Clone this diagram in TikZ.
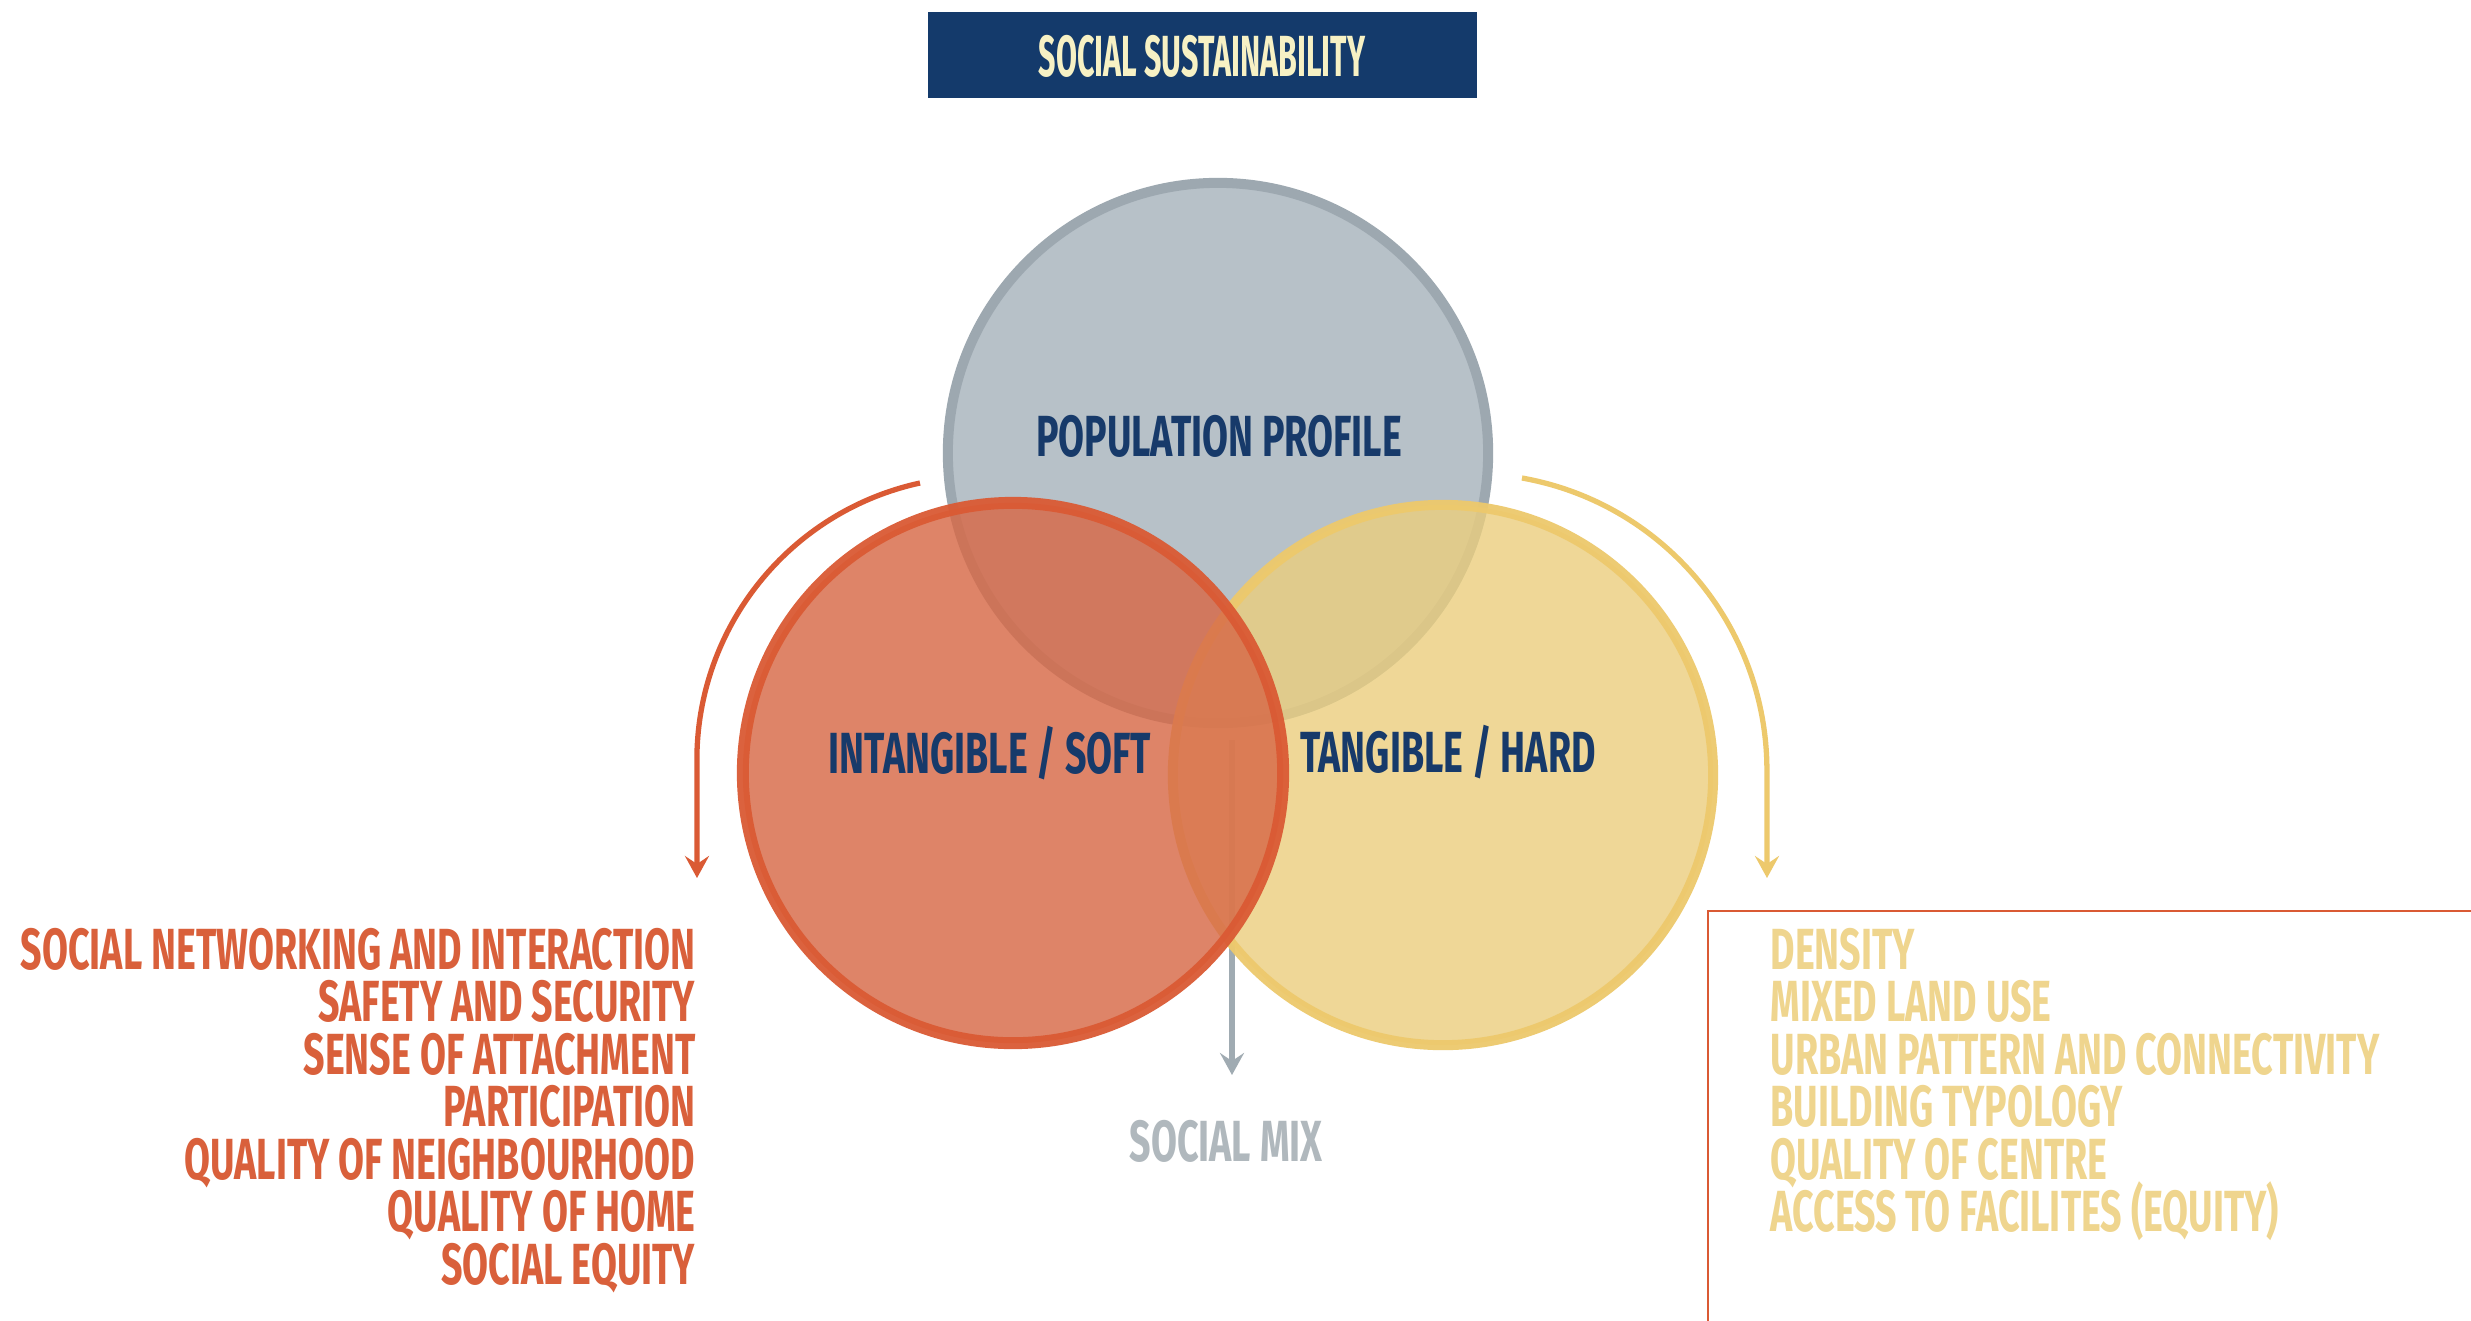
\documentclass[tikz,border=0pt]{standalone}
\usepackage{fontspec}
\newfontfamily\bb[FakeStretch=0.648]{Fira Sans}
\usetikzlibrary{arrows.meta}
\definecolor{navy}{HTML}{143A6B}
\definecolor{cream}{HTML}{F7F1C4}
\definecolor{grayfill}{HTML}{B7C1C8}
\definecolor{graystroke}{HTML}{9DA8B0}
\definecolor{redfill}{HTML}{D76947}
\definecolor{redstroke}{HTML}{DA5A34}
\definecolor{yelfill}{HTML}{EBCE7E}
\definecolor{yelstroke}{HTML}{EDC96C}
\definecolor{redtext}{HTML}{D9603B}
\definecolor{yeltext}{HTML}{EFD58E}
\definecolor{mixtext}{HTML}{B0B8BD}
\definecolor{arrowgray}{HTML}{A0ABB2}
\definecolor{circtext}{HTML}{173A6A}
\begin{document}
\begin{tikzpicture}[x=0.01cm,y=-0.01cm,
  lbl/.style={inner sep=0, font=\bb\bfseries\fontsize{16.5}{18}\selectfont},
  venn/.style={circle, minimum size=5.4cm, inner sep=0},
  flowarrow/.style={line width=1.5pt, -{Stealth[length=0.22cm,width=0.24cm,inset=0.08cm]}}]
\fill[white] (0,0) rectangle (2471,1320);
\useasboundingbox (0,0) rectangle (2471,1320);

% title
\node[fill=navy, minimum width=5.49cm, minimum height=0.86cm, inner sep=0] (title) at (1202.5,55) {};
\node[lbl, text=cream, anchor=base] (titletxt) at (1202,76) {\scalebox{0.81}[1]{SOCIAL SUSTAINABILITY}};

% population circle
\node[venn, fill=grayfill, draw=graystroke, line width=2.85pt] (pop) at (1218,453) {};
% social mix arrow (under the coloured circles)
\coordinate (mixstart) at (1232,740);
\coordinate (mixend) at (1232,1075);
\node[lbl, text=mixtext, anchor=base] (mix) at (1226,1161) {SOCIAL MIX};
\draw[flowarrow, draw=arrowgray, line width=1.6pt] (mixstart) -- (mixend);

% tangible circle
\node[venn, fill=yelfill, fill opacity=0.8, draw=yelstroke, draw opacity=0.95, line width=2.85pt] (hard) at (1443,775) {};
% intangible circle
\node[venn, fill=redfill, fill opacity=0.82, draw=redstroke, draw opacity=0.95, line width=3.4pt] (soft) at (1013,773) {};

% circle labels
\node[lbl, text=circtext, anchor=base] (poptxt) at (1219,456) {POPULATION PROFILE};
\node[lbl, text=circtext, anchor=base] (softtxt) at (990,773) {INTANGIBLE / SOFT};
\node[lbl, text=circtext, anchor=base] (hardtxt) at (1448,772) {TANGIBLE / HARD};

% curved arrows
\coordinate (ra0) at (920,483);
\coordinate (ra1) at (697,878);
\draw[flowarrow, draw=redstroke] (ra0) arc[start angle=-102.3, end angle=-180, radius=283.5] -- (ra1);
\coordinate (ya0) at (1522,478);
\coordinate (ya1) at (1767,878);
\draw[flowarrow, draw=yelstroke] (ya0) arc[start angle=-79.9, end angle=0, radius=297] -- (ya1);

% left list
\foreach \t [count=\i] in {SOCIAL NETWORKING AND INTERACTION,SAFETY AND SECURITY,SENSE OF ATTACHMENT,PARTICIPATION,QUALITY OF NEIGHBOURHOOD,QUALITY OF HOME,SOCIAL EQUITY}
  \node[lbl, text=redtext, anchor=base east] (l\i) at (696,{969+52.5*(\i-1)}) {\t};

% right box
\coordinate (b0) at (2480,911);
\coordinate (b1) at (1708,911);
\coordinate (b2) at (1708,1330);
\draw[redstroke, line width=0.75pt] (b0) -- (b1) -- (b2);

% right list
\foreach \t [count=\i] in {DENSITY,MIXED LAND USE,URBAN PATTERN AND CONNECTIVITY,BUILDING TYPOLOGY,QUALITY OF CENTRE,ACCESS TO FACILITES (EQUITY)}
  \node[lbl, text=yeltext, anchor=base west] (r\i) at (1770,{969+52.5*(\i-1)}) {\t};
\end{tikzpicture}
\end{document}
